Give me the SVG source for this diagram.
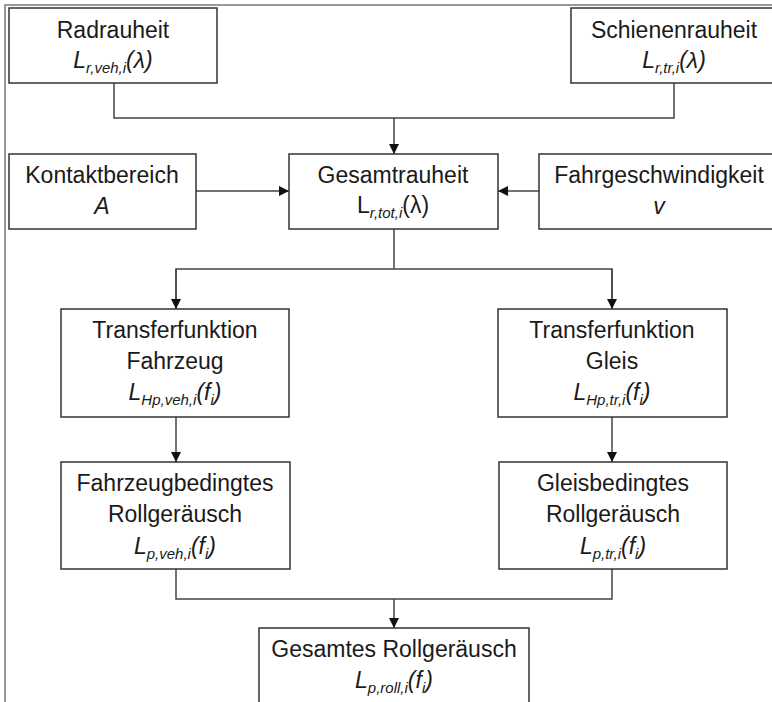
<svg xmlns="http://www.w3.org/2000/svg" width="772" height="702" viewBox="0 0 772 702">
<style>
.box{fill:#fff;stroke:#333;stroke-width:1.5}
.con{fill:none;stroke:#444;stroke-width:1.5}
.t{font-family:"Liberation Sans",Arial,sans-serif;font-size:23px;fill:#1a1a1a;text-anchor:middle}
.i{font-style:italic}
.s{font-size:15px;font-style:italic}
.frame{fill:none;stroke:#777;stroke-width:1.5}
</style>
<defs>
<marker id="ah" markerUnits="userSpaceOnUse" markerWidth="10" markerHeight="10" viewBox="0 0 10 10" refX="10" refY="5" orient="auto">
<path d="M0,0 L10,5 L0,10 z" fill="#111"/>
</marker>
</defs>
<rect x="0" y="0" width="772" height="702" fill="#fff"/>
<path class="frame" d="M5,702 V5 H772"/>
<g id="connectors">
<path class="con" d="M114,83 V118 H674 V83"/>
<path class="con" d="M394,118 V154" marker-end="url(#ah)"/>
<path class="con" d="M196,191 H289" marker-end="url(#ah)"/>
<path class="con" d="M539,191 H498" marker-end="url(#ah)"/>
<path class="con" d="M394,229 V269"/>
<path class="con" d="M176,309 V269 H612 V309" />
<path class="con" d="M176,269 V309" marker-end="url(#ah)"/>
<path class="con" d="M612,269 V309" marker-end="url(#ah)"/>
<path class="con" d="M176,417 V462" marker-end="url(#ah)"/>
<path class="con" d="M612,417 V462" marker-end="url(#ah)"/>
<path class="con" d="M176,569 V599 H612 V569"/>
<path class="con" d="M394,599 V628" marker-end="url(#ah)"/>
</g>
<g id="radrauheit">
<rect class="box" x="9" y="8" width="208" height="75"/>
<text class="t" x="113" y="38">Radrauheit</text>
<text class="t" x="113" y="68"><tspan class="i">L</tspan><tspan class="s" dy="5">r,veh,i</tspan><tspan class="i" dy="-5">(λ)</tspan></text>
</g>
<g id="schienenrauheit">
<rect class="box" x="571" y="8" width="207" height="75"/>
<text class="t" x="674" y="38">Schienenrauheit</text>
<text class="t" x="674" y="68"><tspan class="i">L</tspan><tspan class="s" dy="5">r,tr,i</tspan><tspan class="i" dy="-5">(λ)</tspan></text>
</g>
<g id="kontaktbereich">
<rect class="box" x="9" y="154" width="187" height="75"/>
<text class="t" x="102" y="183">Kontaktbereich</text>
<text class="t i" x="102" y="214">A</text>
</g>
<g id="gesamtrauheit">
<rect class="box" x="289" y="154" width="209" height="75"/>
<text class="t" x="393" y="183">Gesamtrauheit</text>
<text class="t" x="393" y="213"><tspan>L</tspan><tspan class="s" dy="5">r,tot,i</tspan><tspan dy="-5">(λ)</tspan></text>
</g>
<g id="fahrgeschwindigkeit">
<rect class="box" x="539" y="154" width="240" height="75"/>
<text class="t" x="659" y="183">Fahrgeschwindigkeit</text>
<text class="t i" x="659" y="214">v</text>
</g>
<g id="transfer-fahrzeug">
<rect class="box" x="61" y="309" width="228" height="108"/>
<text class="t" x="175" y="338">Transferfunktion</text>
<text class="t" x="175" y="369">Fahrzeug</text>
<text class="t" x="175" y="400"><tspan class="i">L</tspan><tspan class="s" dy="5">Hp,veh,i</tspan><tspan class="i" dy="-5">(f</tspan><tspan class="s" dy="5">i</tspan><tspan class="i" dy="-5">)</tspan></text>
</g>
<g id="transfer-gleis">
<rect class="box" x="498" y="309" width="229" height="108"/>
<text class="t" x="612" y="338">Transferfunktion</text>
<text class="t" x="612" y="369">Gleis</text>
<text class="t" x="612" y="400"><tspan class="i">L</tspan><tspan class="s" dy="5">Hp,tr,i</tspan><tspan class="i" dy="-5">(f</tspan><tspan class="s" dy="5">i</tspan><tspan class="i" dy="-5">)</tspan></text>
</g>
<g id="fahrzeugbedingt">
<rect class="box" x="61" y="462" width="229" height="107"/>
<text class="t" x="175" y="491">Fahrzeugbedingtes</text>
<text class="t" x="175" y="522">Rollgeräusch</text>
<text class="t" x="175" y="554"><tspan class="i">L</tspan><tspan class="s" dy="5">p,veh,i</tspan><tspan class="i" dy="-5">(f</tspan><tspan class="s" dy="5">i</tspan><tspan class="i" dy="-5">)</tspan></text>
</g>
<g id="gleisbedingt">
<rect class="box" x="499" y="462" width="228" height="107"/>
<text class="t" x="613" y="491">Gleisbedingtes</text>
<text class="t" x="613" y="522">Rollgeräusch</text>
<text class="t" x="613" y="554"><tspan class="i">L</tspan><tspan class="s" dy="5">p,tr,i</tspan><tspan class="i" dy="-5">(f</tspan><tspan class="s" dy="5">i</tspan><tspan class="i" dy="-5">)</tspan></text>
</g>
<g id="gesamtes-rollgeraeusch">
<rect class="box" x="259" y="628" width="270" height="100"/>
<text class="t" x="394" y="657">Gesamtes Rollgeräusch</text>
<text class="t" x="394" y="688"><tspan class="i">L</tspan><tspan class="s" dy="5">p,roll,i</tspan><tspan class="i" dy="-5">(f</tspan><tspan class="s" dy="5">i</tspan><tspan class="i" dy="-5">)</tspan></text>
</g>
</svg>
